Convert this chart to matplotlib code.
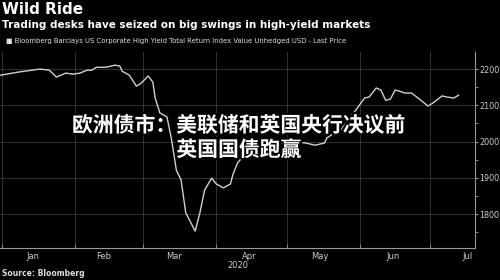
import matplotlib
matplotlib.use("Agg")
import matplotlib.pyplot as plt
import matplotlib.dates as mdates
import matplotlib.patheffects as pe
import pandas as pd

# データ
dates = ["2019-12-31", "2020-01-08", "2020-01-17", "2020-01-21", "2020-01-24", "2020-01-28",
         "2020-01-31", "2020-02-03", "2020-02-06", "2020-02-08", "2020-02-10", "2020-02-14",
         "2020-02-18", "2020-02-20", "2020-02-21", "2020-02-24", "2020-02-27", "2020-02-29",
         "2020-03-03", "2020-03-05", "2020-03-06", "2020-03-08", "2020-03-11", "2020-03-13",
         "2020-03-15", "2020-03-17", "2020-03-19", "2020-03-21", "2020-03-23", "2020-03-25",
         "2020-03-27", "2020-03-30", "2020-04-01", "2020-04-04", "2020-04-07", "2020-04-08",
         "2020-04-10", "2020-04-13", "2020-04-19", "2020-04-26", "2020-05-02", "2020-05-09",
         "2020-05-13", "2020-05-17", "2020-05-18", "2020-05-21", "2020-05-24", "2020-05-27",
         "2020-05-30", "2020-06-03", "2020-06-05", "2020-06-08", "2020-06-10", "2020-06-12",
         "2020-06-14", "2020-06-16", "2020-06-18", "2020-06-20", "2020-06-23", "2020-06-27",
         "2020-06-30", "2020-07-02", "2020-07-06", "2020-07-08", "2020-07-11", "2020-07-13"]
values = [2183, 2192, 2200, 2197, 2178, 2189,
          2186, 2189, 2197, 2197, 2205, 2205,
          2211, 2208, 2194, 2183, 2153, 2161,
          2181, 2164, 2120, 2079, 2068, 2004,
          1921, 1894, 1803, 1778, 1753, 1803,
          1866, 1899, 1883, 1872, 1883, 1908,
          1941, 1963, 1982, 1990, 2001, 1996,
          1990, 1996, 2010, 2023, 2032, 2059,
          2084, 2120, 2123, 2148, 2142, 2114,
          2117, 2142, 2139, 2134, 2134, 2114,
          2098, 2106, 2126, 2123, 2120, 2128]
month_labels = ["Jan", "Feb", "Mar", "Apr", "May", "Jun", "Jul"]
month_label_dates = ["2020-01-14", "2020-02-13", "2020-03-14", "2020-04-15",
                     "2020-05-15", "2020-06-15", "2020-07-17"]
y_ticks = [1800, 1900, 2000, 2100, 2200]

x = pd.to_datetime(dates)

fig = plt.figure(figsize=(5, 2.8), dpi=100, facecolor="black")
ax = fig.add_axes([0, 0.114, 0.95, 0.700], facecolor="black")

ax.plot(x, values, color="#d0d0d0", lw=1.0, zorder=3)

ax.set_xlim(pd.Timestamp("2019-12-31"), pd.Timestamp("2020-07-20"))
ax.set_ylim(1706, 2247)

# 軸の設定
ax.xaxis.set_major_locator(mdates.MonthLocator())
ax.xaxis.set_major_formatter(plt.NullFormatter())
ax.set_xticks(pd.to_datetime(month_label_dates), minor=True)
ax.set_xticklabels(month_labels, minor=True)
ax.tick_params(axis="x", which="major", length=3, color="#888888", direction="in")
ax.tick_params(axis="x", which="minor", length=0, labelsize=6, labelcolor="#cccccc", pad=3)

ax.yaxis.tick_right()
ax.set_yticks(y_ticks)
ax.set_yticks(range(1750, 2250, 50), minor=True)
ax.tick_params(axis="y", which="both", length=2, color="#999999", labelsize=5.8,
               labelcolor="#cccccc", pad=1)

ax.grid(True, which="major", color="#333333", lw=0.7)
for s in ["top", "left"]:
    ax.spines[s].set_visible(False)
ax.spines["bottom"].set_color("#999999")
ax.spines["right"].set_color("#999999")

ax.text(pd.Timestamp("2020-04-10"), -0.065, "2020", transform=ax.get_xaxis_transform(),
        ha="center", va="top", fontsize=6, color="#cccccc")

# タイトルなど
fig.text(0.004, 0.965, "Wild Ride", fontsize=11, fontweight="bold", color="white", va="center")
fig.text(0.004, 0.91, "Trading desks have seized on big swings in high-yield markets",
         fontsize=7.5, fontweight="bold", color="white", va="center")
fig.text(0.012, 0.852, "\u25a0 Bloomberg Barclays US Corporate High Yield Total Return Index Value Unhedged USD - Last Price",
         fontsize=4.95, color="#dddddd", va="center")
fig.text(0.004, 0.022, "Source: Bloomberg", fontsize=5.5, fontweight="bold", color="#dddddd", va="center")

# 中国語の見出し
fig.text(0.478, 0.509, "欧洲债市：美联储和英国央行决议前\n英国国债跑赢", fontsize=15,
         fontweight="bold", color="white", ha="center", va="center", linespacing=1.2,
         family=["Noto Sans CJK SC", "DejaVu Sans"],
         path_effects=[pe.withStroke(linewidth=3, foreground="black")], zorder=10)

fig.savefig("out.png", dpi=100, facecolor="black")
